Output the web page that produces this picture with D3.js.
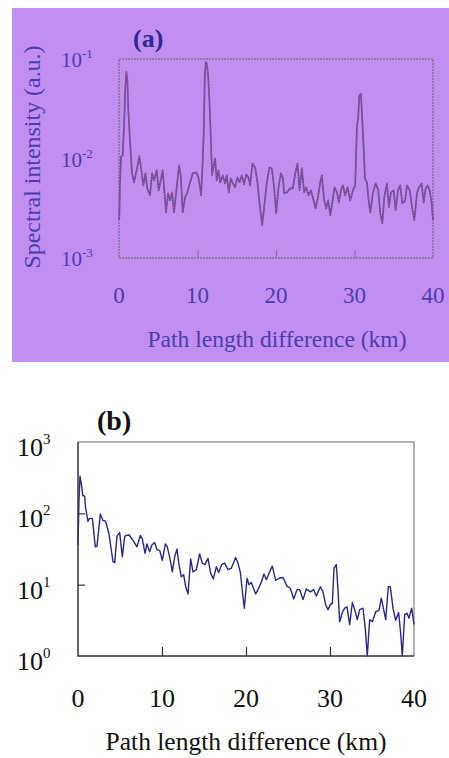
<!DOCTYPE html>
<html><head><meta charset="utf-8">
<script src="https://cdn.jsdelivr.net/npm/d3@7"></script>
<style>html,body{margin:0;padding:0;background:#fff;}svg{display:block;}
svg text{font-family:"Liberation Serif","Times New Roman",Times,serif;}</style>
</head><body>
<svg id="chart" width="449" height="758"></svg>
<script>
// ---- Panel (a) data: path length difference (km) vs spectral intensity (a.u.)
const aKm = [0,0.04,0.13,0.26,0.47,0.64,0.81,0.94,1.06,1.19,1.40,1.66,1.91,2.25,2.59,2.85,3.10,3.36,3.61,3.95,4.21,4.46,4.80,5.06,5.31,5.57,5.74,5.99,6.25,6.50,6.76,7.01,7.35,7.65,7.86,8.12,8.42,8.71,9.05,9.39,9.82,10.12,10.46,10.67,10.80,10.93,11.05,11.18,11.35,11.52,11.69,11.86,12.03,12.24,12.45,12.67,12.88,13.22,13.52,13.73,13.99,14.24,14.50,14.79,15.09,15.35,15.64,15.94,16.20,16.49,16.71,17.00,17.34,17.64,17.90,18.24,18.49,18.83,19.17,19.47,19.77,20.02,20.32,20.62,20.87,21.04,21.38,21.81,22.15,22.45,22.74,23.00,23.29,23.59,23.85,24.14,24.44,24.78,25.04,25.33,25.63,25.84,26.14,26.40,26.65,26.91,27.16,27.46,27.76,28.01,28.27,28.52,28.82,29.12,29.46,29.80,30.09,30.31,30.48,30.61,30.82,30.95,31.16,31.33,31.58,31.80,32.01,32.35,32.69,33.03,33.28,33.54,33.79,34.13,34.39,34.64,34.98,35.24,35.54,35.83,36.09,36.43,36.69,37.03,37.33,37.62,37.96,38.21,38.55,38.81,39.07,39.32,39.58,39.83,40.0];
const aIntensity = [0.00240,0.00257,0.00575,0.0105,0.0107,0.0209,0.0525,0.0741,0.0631,0.0302,0.0151,0.00708,0.00575,0.00759,0.0105,0.00759,0.00537,0.00708,0.00501,0.00427,0.00708,0.00603,0.00759,0.00479,0.00603,0.00759,0.00513,0.00288,0.00447,0.00380,0.00457,0.00288,0.00513,0.00851,0.00676,0.00288,0.00407,0.00457,0.00575,0.00708,0.00724,0.00646,0.00427,0.00955,0.0186,0.0661,0.0933,0.0891,0.0692,0.0380,0.0166,0.00676,0.00813,0.0100,0.00603,0.00759,0.00575,0.00676,0.00562,0.00676,0.00457,0.00631,0.00562,0.00513,0.00646,0.00575,0.00676,0.00550,0.00692,0.00646,0.00537,0.00891,0.00813,0.00575,0.00355,0.00214,0.00324,0.00575,0.00813,0.00794,0.00501,0.00282,0.00513,0.00708,0.00646,0.00447,0.00457,0.00501,0.00501,0.00708,0.00891,0.00479,0.00794,0.00457,0.00513,0.00427,0.00479,0.00380,0.00316,0.00398,0.00575,0.00676,0.00380,0.00316,0.00380,0.00269,0.00355,0.00513,0.00457,0.00363,0.00479,0.00537,0.00427,0.00513,0.00380,0.00479,0.00537,0.0209,0.0263,0.0427,0.0447,0.0282,0.0132,0.00631,0.00575,0.00380,0.00288,0.00447,0.00562,0.00479,0.00282,0.00224,0.00407,0.00562,0.00324,0.00457,0.00479,0.00302,0.00479,0.00537,0.00355,0.00372,0.00537,0.00479,0.00324,0.00240,0.00447,0.00513,0.00562,0.00363,0.00501,0.00537,0.00479,0.00355,0.00240];
const aXTicks = [0,10,20,30,40];
const aYTicks = [1e-3,1e-2,1e-1];

// ---- Panel (b) data
const bKm = [0,0.12,0.24,0.44,0.56,0.79,0.91,1.19,1.39,1.71,2.06,2.26,2.66,2.98,3.29,3.69,4.17,4.37,4.64,4.96,5.28,5.56,6.07,6.55,7.02,7.42,7.66,7.98,8.21,8.53,8.81,9.13,9.40,9.72,10.04,10.40,10.63,10.91,11.23,11.51,11.79,12.02,12.30,12.58,12.82,13.10,13.41,13.69,14.09,14.48,14.80,15.12,15.48,15.79,16.11,16.47,16.75,17.10,17.46,17.86,18.25,18.77,19.05,19.33,19.64,19.80,20.12,20.36,20.63,21.15,21.43,21.83,22.14,22.42,22.74,23.13,23.53,23.93,24.40,24.88,25.28,25.67,26.07,26.39,26.79,27.18,27.66,28.06,28.37,28.85,29.17,29.48,29.76,30.04,30.28,30.48,30.75,30.95,31.15,31.47,31.75,32.02,32.34,32.66,32.94,33.25,33.53,33.93,34.21,34.44,34.72,35.04,35.44,35.83,36.11,36.39,36.63,36.94,37.18,37.50,37.82,38.17,38.41,38.61,38.89,39.17,39.40,39.72,40.0];
const bValue = [36.3,155,331,240,178,174,117,77.6,85.1,85.1,33.9,34.7,97.7,79.4,77.6,51.3,20.9,20.4,47.9,53.7,24.5,47.9,50.1,41.7,33.9,49.0,43.7,27.5,37.2,28.8,36.3,38.9,30.9,30.2,21.9,37.2,33.9,24.5,15.1,24.5,31.6,19.1,12.9,13.8,9.33,7.41,22.9,15.1,16.2,26.9,20.0,19.1,23.4,14.5,12.0,17.8,14.8,19.1,20.0,16.2,17.0,24.0,20.0,14.8,6.76,4.68,12.3,10.0,10.7,7.41,8.51,11.0,14.1,11.7,14.5,18.2,11.5,12.3,12.6,9.55,8.91,6.31,8.51,8.51,6.17,8.71,7.94,8.51,6.92,9.33,7.94,5.25,4.47,5.25,5.50,17.0,19.1,8.51,3.02,4.07,4.68,4.90,2.75,5.62,4.47,3.24,4.47,4.68,2.34,1.0,3.24,3.02,4.17,4.37,6.46,4.47,3.24,9.33,9.33,4.68,3.16,4.07,2.09,1.0,3.80,3.98,3.39,4.68,2.75];
const bXTicks = [0,10,20,30,40];
const bYTicks = [1,10,100,1000];

const svg = d3.select("#chart");

// ================= Panel (a) =================
const A = {l:119, r:433, t:59, b:258};
const aText = "#4a3eae";
svg.append("rect").attr("x",12).attr("y",8).attr("width",437).attr("height",354).attr("fill","#c18ff0");

const xa = d3.scaleLinear().domain([0,40]).range([A.l,A.r]);
const ya = d3.scaleLog().domain([1e-3,1e-1]).range([A.b,A.t]);

const ga = svg.append("g").attr("transform",`translate(0,${A.b})`)
  .call(d3.axisBottom(xa).tickValues([10,20,30]).tickSize(-8).tickFormat(""));
ga.select(".domain").remove();
ga.selectAll("line").attr("stroke","#7d7090").attr("stroke-width",1);

svg.append("rect").attr("x",A.l).attr("y",A.t).attr("width",A.r-A.l).attr("height",A.b-A.t)
  .attr("fill","none").attr("stroke","#80758f").attr("stroke-width",1.5).attr("stroke-dasharray","2,1");

const aPts = aKm.map((k,i)=>[k,aIntensity[i]]);
const lineA = d3.line().x(d=>xa(d[0])).y(d=>ya(d[1]));
svg.append("path").attr("d",lineA(aPts)).attr("fill","none").attr("stroke","#5e4f9e").attr("stroke-width",1.7).attr("stroke-linejoin","round");
svg.append("path").attr("d",lineA(aPts)).attr("fill","none").attr("stroke","#d8507c").attr("stroke-width",1).attr("stroke-dasharray","1,2");

aYTicks.forEach(v=>{
  const e = Math.round(Math.log10(v));
  const t = svg.append("text").attr("x",61).attr("y",ya(v)+8).attr("font-size",21).attr("fill",aText);
  t.append("tspan").text("10");
  t.append("tspan").attr("dy",-9).attr("font-size",13).text(e);
});
aXTicks.forEach(v=>{
  svg.append("text").attr("x",xa(v)).attr("y",303).attr("text-anchor","middle").attr("font-size",23).attr("fill",aText).text(v);
});
svg.append("text").attr("x",277).attr("y",347).attr("text-anchor","middle").attr("font-size",23)
  .attr("textLength",259).attr("lengthAdjust","spacingAndGlyphs").attr("fill",aText).text("Path length difference (km)");
svg.append("text").attr("transform","translate(40,157) rotate(-90)").attr("text-anchor","middle").attr("font-size",23)
  .attr("textLength",223).attr("lengthAdjust","spacingAndGlyphs").attr("fill",aText).text("Spectral intensity (a.u.)");
svg.append("text").attr("x",133).attr("y",47).attr("font-weight","bold").attr("font-size",26).attr("fill","#2e2a90").text("(a)");

// ================= Panel (b) =================
const B = {l:78, r:414, t:442, b:656};
const xb = d3.scaleLinear().domain([0,40]).range([B.l,B.r]);
const yb = d3.scaleLog().domain([1,1000]).range([B.b,B.t]);

svg.append("path").attr("d",`M${B.l},${B.t}H${B.r}V${B.b}`).attr("fill","none").attr("stroke","#9a9a9a").attr("stroke-width",1.5);
const gbx = svg.append("g").attr("transform",`translate(0,${B.b})`)
  .call(d3.axisBottom(xb).tickValues([10,20,30]).tickSize(-9).tickFormat(""));
gbx.select(".domain").remove();
gbx.selectAll("line").attr("stroke","#333").attr("stroke-width",1.2);
const gby = svg.append("g").attr("transform",`translate(${B.l},0)`)
  .call(d3.axisLeft(yb).tickValues([10,100]).tickSize(-7).tickFormat(""));
gby.select(".domain").remove();
gby.selectAll("line").attr("stroke","#333").attr("stroke-width",1.2);

const bPts = bKm.map((k,i)=>[k,bValue[i]]);
const lineB = d3.line().x(d=>xb(d[0])).y(d=>yb(d[1]));
svg.append("path").attr("d",lineB(bPts)).attr("fill","none").attr("stroke","#27278f").attr("stroke-width",1.4).attr("stroke-linejoin","round");

svg.append("path").attr("d",`M${B.l},${B.t}V${B.b}H${B.r}`).attr("fill","none").attr("stroke","#333").attr("stroke-width",1.5);

bYTicks.forEach(v=>{
  const e = Math.round(Math.log10(v));
  const t = svg.append("text").attr("x",17).attr("y",yb(v)+14).attr("font-size",26).attr("fill","#111");
  t.append("tspan").text("10");
  t.append("tspan").attr("dy",-12).attr("font-size",15).text(e);
});
bXTicks.forEach(v=>{
  svg.append("text").attr("x",xb(v)).attr("y",707).attr("text-anchor","middle").attr("font-size",26).attr("fill","#111").text(v);
});
svg.append("text").attr("x",246).attr("y",750).attr("text-anchor","middle").attr("font-size",25)
  .attr("textLength",281).attr("lengthAdjust","spacingAndGlyphs").attr("fill","#111").text("Path length difference (km)");
svg.append("text").attr("x",97).attr("y",430).attr("font-weight","bold").attr("font-size",28).attr("fill","#111").text("(b)");
</script>
</body></html>
